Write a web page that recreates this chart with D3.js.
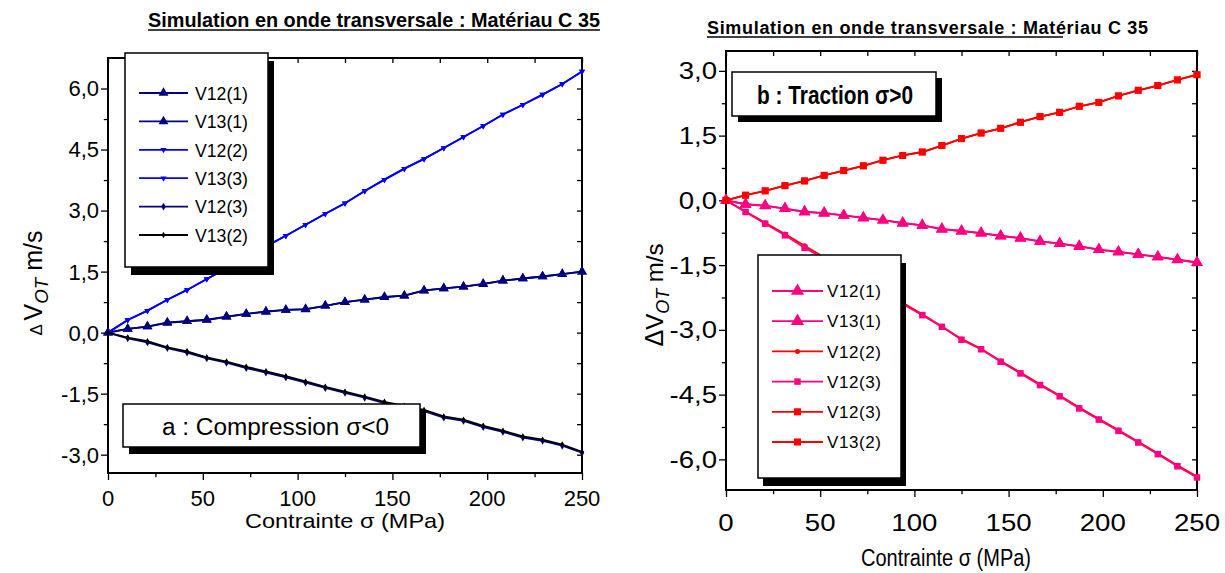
<!DOCTYPE html>
<html>
<head>
<meta charset="utf-8">
<script src="https://cdn.jsdelivr.net/npm/d3@7"></script>
<style>
  body { margin: 0; background: #fff; }
  text { font-family: "Liberation Sans", Arial, sans-serif; }
</style>
</head>
<body>
<div id="chart"></div>
<script>
// contrainte (MPa)
var stress = [0, 10.4, 20.8, 31.3, 41.7, 52.1, 62.5, 72.9, 83.3, 93.8, 104.2, 114.6, 125,
  135.4, 145.8, 156.3, 166.7, 177.1, 187.5, 197.9, 208.3, 218.8, 229.2, 239.6, 250];

// a : compression
var aV12_1 = [0, 0.09, 0.15, 0.25, 0.28, 0.31, 0.39, 0.46, 0.52, 0.56, 0.57, 0.66, 0.75,
  0.81, 0.88, 0.91, 1.04, 1.09, 1.13, 1.19, 1.28, 1.33, 1.38, 1.44, 1.50];
var aV13_1 = [0, 0.09, 0.15, 0.24, 0.28, 0.32, 0.39, 0.46, 0.51, 0.56, 0.58, 0.66, 0.75,
  0.81, 0.87, 0.91, 1.03, 1.09, 1.13, 1.20, 1.28, 1.33, 1.38, 1.44, 1.50];
var aV12_2 = [0, 0.31, 0.54, 0.81, 1.05, 1.32, 1.58, 1.85, 2.12, 2.38, 2.65, 2.92, 3.18,
  3.48, 3.76, 4.03, 4.27, 4.54, 4.81, 5.08, 5.36, 5.60, 5.85, 6.11, 6.42];
var aV13_3 = [0, 0.31, 0.54, 0.81, 1.05, 1.32, 1.58, 1.85, 2.12, 2.38, 2.65, 2.92, 3.18,
  3.48, 3.76, 4.03, 4.27, 4.54, 4.81, 5.08, 5.36, 5.60, 5.85, 6.11, 6.42];
var aV12_3 = [0, -0.14, -0.24, -0.38, -0.49, -0.63, -0.74, -0.87, -0.98, -1.10, -1.23, -1.36, -1.48,
  -1.60, -1.73, -1.83, -1.93, -2.09, -2.17, -2.32, -2.44, -2.58, -2.66, -2.78, -2.95];
var aV13_2 = [0, -0.12, -0.21, -0.36, -0.46, -0.61, -0.71, -0.84, -0.95, -1.07, -1.20, -1.33, -1.45,
  -1.57, -1.70, -1.80, -1.90, -2.06, -2.14, -2.29, -2.41, -2.55, -2.63, -2.75, -2.93];

// b : traction
var bV12_1 = [0, -0.09, -0.12, -0.19, -0.27, -0.29, -0.35, -0.41, -0.46, -0.52, -0.58, -0.67, -0.71,
  -0.76, -0.83, -0.87, -0.95, -1.00, -1.06, -1.14, -1.20, -1.25, -1.31, -1.37, -1.44];
var bV13_1 = [0, -0.09, -0.13, -0.19, -0.26, -0.30, -0.35, -0.40, -0.46, -0.53, -0.58, -0.66, -0.71,
  -0.76, -0.82, -0.88, -0.95, -1.00, -1.07, -1.14, -1.19, -1.25, -1.31, -1.38, -1.44];
var bV12_2 = [0, -0.26, -0.52, -0.78, -1.05, -1.32, -1.58, -1.84, -2.11, -2.37, -2.64, -2.92, -3.21,
  -3.44, -3.72, -3.99, -4.26, -4.52, -4.80, -5.06, -5.32, -5.59, -5.86, -6.14, -6.40];
var bV12_3 = [0, -0.27, -0.54, -0.81, -1.10, -1.35, -1.60, -1.86, -2.13, -2.40, -2.66, -2.93, -3.23,
  -3.45, -3.74, -4.01, -4.28, -4.54, -4.82, -5.08, -5.34, -5.61, -5.88, -6.16, -6.42];
var bV12_3r = [0, 0.12, 0.22, 0.34, 0.45, 0.58, 0.69, 0.80, 0.93, 1.04, 1.12, 1.27, 1.43,
  1.56, 1.67, 1.81, 1.94, 2.04, 2.18, 2.27, 2.42, 2.55, 2.66, 2.79, 2.91];
var bV13_2 = [0, 0.12, 0.22, 0.34, 0.45, 0.58, 0.69, 0.80, 0.93, 1.04, 1.12, 1.27, 1.43,
  1.56, 1.67, 1.81, 1.94, 2.04, 2.18, 2.27, 2.42, 2.55, 2.66, 2.79, 2.91];

var xTicks = [0, 50, 100, 150, 200, 250];
var aYTicks = [-3, -1.5, 0, 1.5, 3, 4.5, 6];
var bYTicks = [-6, -4.5, -3, -1.5, 0, 1.5, 3];

var navy = "#000080", blue = "#0000ff", pink = "#ff0080", red = "#ff0000";

var svg = d3.select("#chart").append("svg")
  .attr("width", 1225)
  .attr("height", 573);

// comma decimals, plain hyphen
var fmt = function(d) { return d.toFixed(1).replace(".", ","); };

function drawPanel(p) {
  var x = d3.scaleLinear().domain([0, 250]).range([p.left, p.right]);
  var y = d3.scaleLinear().domain(p.yDomain).range([p.bottom, p.top]);
  var g = svg.append("g");

  // axes
  var bottomAxis = d3.axisBottom(x).tickValues(xTicks).tickSize(p.tick).tickFormat("");
  var bottomMinor = d3.axisBottom(x).tickValues([25, 75, 125, 175, 225]).tickSize(p.tick * 0.6).tickFormat("");
  var leftAxis = d3.axisLeft(y).tickValues(p.yTicks).tickSize(p.tick).tickFormat("");
  var leftMinor = d3.axisLeft(y).tickValues(p.yMinor).tickSize(p.tick * 0.6).tickFormat("");
  var topAxis = d3.axisTop(x).tickValues(d3.range(0, 251, 25)).tickSize(-5).tickFormat("");
  var rightAxis = d3.axisRight(y).tickValues(p.yTicks.concat(p.yMinor)).tickSize(-5).tickFormat("");

  [[bottomAxis, 0, p.bottom], [bottomMinor, 0, p.bottom], [leftAxis, p.left, 0], [leftMinor, p.left, 0],
   [topAxis, 0, p.top], [rightAxis, p.right, 0]].forEach(function(a) {
    var ag = g.append("g").attr("transform", "translate(" + a[1] + "," + a[2] + ")").call(a[0]);
    ag.select(".domain").remove();
    ag.selectAll("line").attr("stroke", "#000").attr("stroke-width", 1.3);
  });

  g.append("rect")
    .attr("x", p.left).attr("y", p.top)
    .attr("width", p.right - p.left).attr("height", p.bottom - p.top)
    .attr("fill", "none").attr("stroke", "#000").attr("stroke-width", 2);

  // tick labels
  g.selectAll(".xl").data(xTicks).enter().append("text")
    .attr("transform", d => "translate(" + x(d) + "," + p.xLabelY + ") scale(" + p.sx + ",1)")
    .attr("text-anchor", "middle")
    .style("font-size", p.tickFont + "px")
    .text(d => d);

  g.selectAll(".yl").data(p.yTicks).enter().append("text")
    .attr("transform", d => "translate(" + (p.left - p.tick - 2) + "," + y(d) + ") scale(" + p.sx + ",1)")
    .attr("dy", "0.36em")
    .attr("text-anchor", "end")
    .style("font-size", p.tickFont + "px")
    .text(d => fmt(d));

  // series
  var line = d3.line().x((d, i) => x(stress[i])).y(d => y(d));
  p.series.forEach(function(s) {
    g.append("path").datum(s.values)
      .attr("fill", "none").attr("stroke", s.color).attr("stroke-width", 1.8)
      .attr("d", line);
    g.selectAll(null).data(s.values).enter().append("path")
      .attr("transform", (d, i) => "translate(" + x(stress[i]) + "," + y(d) + ")" + (s.rot ? " rotate(180)" : ""))
      .attr("d", d3.symbol().type(s.symbol).size(s.size))
      .attr("fill", s.color);
  });

  // x title
  g.append("text")
    .attr("x", p.xTitleX).attr("y", p.xTitleY)
    .attr("text-anchor", "middle")
    .attr("textLength", p.xTitleLen).attr("lengthAdjust", "spacingAndGlyphs")
    .style("font-size", p.titleFont + "px")
    .text("Contrainte σ (MPa)");

  // y title
  var yt = g.append("text")
    .attr("transform", "translate(" + p.yTitleX + "," + p.yTitleY + ") rotate(-90)")
    .attr("text-anchor", "middle")
    .style("font-size", p.yFont + "px");
  yt.append("tspan").style("font-size", p.deltaFont + "px").text(p.deltaText);
  yt.append("tspan").text("V");
  yt.append("tspan").attr("dy", 6).style("font-size", (p.yFont * 0.75) + "px").style("font-style", "italic").text("OT");
  yt.append("tspan").attr("dy", -6).text("  m/s");

  return { x: x, y: y, g: g };
}

function shadowBox(g, bx, by, bw, bh, dx, dy) {
  g.append("rect").attr("x", bx + dx).attr("y", by + dy).attr("width", bw).attr("height", bh).attr("fill", "#000");
  g.append("rect").attr("x", bx).attr("y", by).attr("width", bw).attr("height", bh)
    .attr("fill", "#fff").attr("stroke", "#000").attr("stroke-width", 1.5);
}

function legend(g, items, L) {
  shadowBox(g, L.x, L.y, L.w, L.h, L.dx, L.dy);
  items.forEach(function(s, i) {
    var yy = L.row0 + i * L.step;
    g.append("line").attr("x1", L.lx1).attr("x2", L.lx2).attr("y1", yy).attr("y2", yy)
      .attr("stroke", s.color).attr("stroke-width", 1.8);
    g.append("path")
      .attr("transform", "translate(" + (L.lx1 + L.lx2) / 2 + "," + yy + ")" + (s.rot ? " rotate(180)" : ""))
      .attr("d", d3.symbol().type(s.symbol).size(s.legendSize || s.size))
      .attr("fill", s.color);
    g.append("text").attr("x", L.tx).attr("y", yy).attr("dy", "0.36em")
      .attr("textLength", L.tlen).attr("lengthAdjust", L.adjust)
      .style("font-size", L.font + "px").text(s.name);
  });
}

// ---------- panel a ----------
var aSeries = [
  { name: "V12(1)", values: aV12_1, color: navy, symbol: d3.symbolTriangle, size: 42 },
  { name: "V13(1)", values: aV13_1, color: navy, symbol: d3.symbolTriangle, size: 42 },
  { name: "V12(2)", values: aV12_2, color: blue, symbol: d3.symbolTriangle, size: 16, rot: true },
  { name: "V13(3)", values: aV13_3, color: blue, symbol: d3.symbolTriangle, size: 16, rot: true },
  { name: "V12(3)", values: aV12_3, color: navy, symbol: d3.symbolDiamond, size: 18 },
  { name: "V13(2)", values: aV13_2, color: "#000", symbol: d3.symbolDiamond, size: 12 }
];

var pa = drawPanel({
  left: 108, right: 582, top: 58, bottom: 473,
  yDomain: [-3.45, 6.75], yTicks: aYTicks, yMinor: [-2.25, -0.75, 0.75, 2.25, 3.75, 5.25],
  tick: 7, tickFont: 22, sx: 1, titleFont: 21, xLabelY: 506, xTitleX: 345, xTitleY: 528, xTitleLen: 200,
  yFont: 25, yTitleX: 42, yTitleY: 283, deltaText: "Δ ", deltaFont: 17,
  series: aSeries
});

legend(pa.g, aSeries, { x: 125, y: 53, w: 143, h: 214, dx: 6, dy: 8,
  row0: 93, step: 28.4, lx1: 139, lx2: 188, tx: 195, font: 19, tlen: 53, adjust: "spacingAndGlyphs" });

shadowBox(pa.g, 123, 404, 297, 43, 6, 7);
pa.g.append("text").attr("x", 162).attr("y", 435)
  .attr("textLength", 227).attr("lengthAdjust", "spacingAndGlyphs").style("font-size", "23px")
  .text("a :  Compression σ<0");

svg.append("text").attr("x", 148).attr("y", 27)
  .attr("textLength", 452).attr("lengthAdjust", "spacingAndGlyphs")
  .style("font-size", "21px").style("font-weight", "bold")
  .text("Simulation en onde transversale : Matériau C 35");
svg.append("line").attr("x1", 148).attr("x2", 600).attr("y1", 30).attr("y2", 30)
  .attr("stroke", "#000").attr("stroke-width", 1.5);

// ---------- panel b ----------
var bSeries = [
  { name: "V12(1)", values: bV12_1, color: pink, symbol: d3.symbolTriangle, size: 60, legendSize: 75 },
  { name: "V13(1)", values: bV13_1, color: pink, symbol: d3.symbolTriangle, size: 60, legendSize: 75 },
  { name: "V12(2)", values: bV12_2, color: red, symbol: d3.symbolCircle, size: 20 },
  { name: "V12(3)", values: bV12_3, color: pink, symbol: d3.symbolSquare, size: 42 },
  { name: "V12(3)", values: bV12_3r, color: red, symbol: d3.symbolSquare, size: 50 },
  { name: "V13(2)", values: bV13_2, color: red, symbol: d3.symbolSquare, size: 42, legendSize: 50 }
];

var pb = drawPanel({
  left: 726, right: 1197, top: 51, bottom: 490,
  yDomain: [-6.71, 3.46], yTicks: bYTicks, yMinor: [-5.25, -3.75, -2.25, -0.75, 0.75, 2.25],
  tick: 7, tickFont: 24, sx: 1.15, titleFont: 23, xTitleX: 946, xLabelY: 531, xTitleY: 566, xTitleLen: 170,
  yFont: 24, yTitleX: 663, yTitleY: 295, deltaText: "Δ", deltaFont: 25,
  series: bSeries
});

legend(pb.g, bSeries, { x: 758, y: 255, w: 143, h: 223, dx: 5, dy: 8,
  row0: 291, step: 30.2, lx1: 772, lx2: 823, tx: 827, font: 17, tlen: 54, adjust: "spacing" });

shadowBox(pb.g, 732, 72, 204, 44, 6, 6);
pb.g.append("text").attr("x", 757).attr("y", 104)
  .attr("textLength", 156).attr("lengthAdjust", "spacingAndGlyphs")
  .style("font-size", "25px").style("font-weight", "bold")
  .text("b : Traction σ>0");

svg.append("text").attr("x", 707).attr("y", 34)
  .attr("textLength", 441).attr("lengthAdjust", "spacing")
  .style("font-size", "18px").style("font-weight", "bold")
  .text("Simulation en onde transversale : Matériau C 35");
svg.append("line").attr("x1", 707).attr("x2", 1063).attr("y1", 37).attr("y2", 37)
  .attr("stroke", "#000").attr("stroke-width", 1.5);
</script>
</body>
</html>
